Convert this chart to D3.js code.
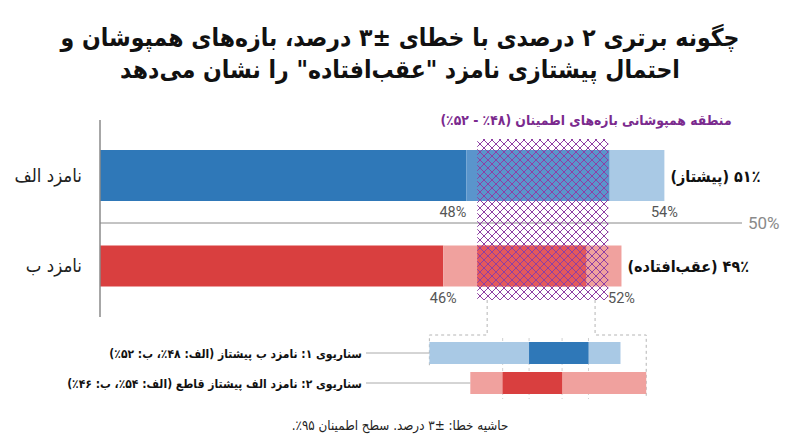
<!DOCTYPE html>
<html>
<head>
<meta charset="utf-8">
<script src="https://cdn.jsdelivr.net/npm/d3@7"></script>
<style>
  body { margin: 0; background: #fff; }
  svg { display: block; }
  .fa { font-family: "DejaVu Sans Condensed", "DejaVu Sans", sans-serif; font-stretch: condensed; direction: rtl; }
  .num { font-family: Roboto, "Liberation Sans", sans-serif; fill: #555; }
</style>
</head>
<body>
<svg id="chart"></svg>
<script>
const chartSize = { width: 800, height: 447 };

const titleLines = [
  "چگونه برتری ۲ درصدی با خطای ±۳ درصد، بازه\u200cهای همپوشان و",
  "احتمال پیشتازی نامزد \"عقب\u200cافتاده\" را نشان می\u200cدهد"
];
const candidates = ["نامزد الف", "نامزد ب"];
const pointLabels = ["۵۱٪ (پیشتاز)", "۴۹٪ (عقب\u200cافتاده)"];
const ciLow = [48, 47.3];
const ciHigh = [54, 52.7];
const innerLow = [48, 48.33];
const innerHigh = [52.33, 51.63];
const lowTicks = ["48%", "46%"];
const highTicks = ["54%", "52%"];
const overlapRange = [48.33, 52.3];
const overlapLabel = "منطقه همپوشانی بازه\u200cهای اطمینان (۴۸٪ - ۵۲٪)";
const refLabel = "50%";
const zoomEdges = [48.63, 51.9];
const scenarioNames = [
  "سناریوی ۱: نامزد ب پیشتاز (الف: ۴۸٪، ب: ۵۲٪)",
  "سناریوی ۲: نامزد الف پیشتاز قاطع (الف: ۵۴٪، ب: ۴۶٪)"
];
const scenarioLight = [[46.88, 52.67], [48.12, 53.45]];
const scenarioDark = [[49.9, 51.7], [49.1, 50.9]];
const footnote = "حاشیه خطا: ±۳ درصد. سطح اطمینان ۹۵٪.";
const domainX = [36.9, 57.2];

const palette = [
  { dark: "#2f78b8", inner: "#5a95cc", light: "#a9c9e5" },
  { dark: "#d93f3f", inner: "#e4585c", light: "#f0a19e" }
];
const rowHeight = [51, 41];
const lowAnchor = ["end", "middle"];
const purple = "#7b2a8e";

const x = d3.scaleLinear().domain(domainX).range([100, 770]);
const y = d3.scalePoint().domain(candidates).range([175.5, 266]);
const ys = d3.scalePoint().domain(scenarioNames).range([353, 383]);

const svg = d3
  .select("#chart")
  .attr("width", chartSize.width)
  .attr("height", chartSize.height);

const uniq = arr => Array.from(new Set(arr));

const drawTitle = () => {
  svg
    .selectAll(".title")
    .data(titleLines)
    .enter()
    .append("text")
    .attr("class", "title fa")
    .attr("x", 400)
    .attr("y", (d, i) => 46 + i * 32)
    .attr("text-anchor", "middle")
    .attr("font-size", 24.5)
    .attr("font-weight", "bold")
    .attr("fill", "#111")
    .text(d => d);
};

const drawBars = () => {
  const rows = candidates.map((c, i) => ({
    name: c,
    i,
    top: y(c) - rowHeight[i] / 2,
    h: rowHeight[i]
  }));

  const g = svg.append("g").attr("class", "bars");

  g.selectAll(".base")
    .data(rows)
    .enter()
    .append("rect")
    .attr("x", x(domainX[0]))
    .attr("y", r => r.top)
    .attr("width", r => x(ciLow[r.i]) - x(domainX[0]))
    .attr("height", r => r.h)
    .attr("fill", r => palette[r.i].dark);

  g.selectAll(".ci")
    .data(rows)
    .enter()
    .append("rect")
    .attr("x", r => x(ciLow[r.i]))
    .attr("y", r => r.top)
    .attr("width", r => x(ciHigh[r.i]) - x(ciLow[r.i]))
    .attr("height", r => r.h)
    .attr("fill", r => palette[r.i].light);

  g.selectAll(".inner")
    .data(rows)
    .enter()
    .append("rect")
    .attr("x", r => x(innerLow[r.i]))
    .attr("y", r => r.top)
    .attr("width", r => x(innerHigh[r.i]) - x(innerLow[r.i]))
    .attr("height", r => r.h)
    .attr("fill", r => palette[r.i].inner);

  // left axis
  svg.append("line")
    .attr("x1", 100).attr("x2", 100)
    .attr("y1", 120).attr("y2", 317)
    .attr("stroke", "#8a8a8a")
    .attr("stroke-width", 1.5);

  // 50% divider
  svg.append("line")
    .attr("x1", 100).attr("x2", 742)
    .attr("y1", 223).attr("y2", 223)
    .attr("stroke", "#888")
    .attr("stroke-width", 1);

  svg.append("text")
    .attr("class", "num")
    .attr("x", 748)
    .attr("y", 229)
    .attr("font-size", 17)
    .style("fill", "#8a8a8a")
    .text(refLabel);

  svg.selectAll(".cand")
    .data(rows)
    .enter()
    .append("text")
    .attr("class", "cand fa")
    .attr("x", 82)
    .attr("y", r => y(r.name) + 6)
    .attr("text-anchor", "start")
    .attr("font-size", 18.5)
    .attr("fill", "#222")
    .text(r => r.name);

  svg.selectAll(".point")
    .data(rows)
    .enter()
    .append("text")
    .attr("class", "point fa")
    .attr("x", r => x(ciHigh[r.i]) + 6)
    .attr("y", r => y(r.name) + 6)
    .attr("text-anchor", "end")
    .attr("font-size", 16)
    .attr("font-weight", "bold")
    .attr("fill", "#111")
    .text(r => pointLabels[r.i]);

  svg.selectAll(".lowtick")
    .data(rows)
    .enter()
    .append("text")
    .attr("class", "num")
    .attr("x", r => x(ciLow[r.i]))
    .attr("y", r => r.top + r.h + 16)
    .attr("text-anchor", r => lowAnchor[r.i])
    .attr("font-size", 14.5)
    .text(r => lowTicks[r.i]);

  svg.selectAll(".hightick")
    .data(rows)
    .enter()
    .append("text")
    .attr("class", "num")
    .attr("x", r => x(ciHigh[r.i]))
    .attr("y", r => r.top + r.h + 16)
    .attr("text-anchor", "middle")
    .attr("font-size", 14.5)
    .text(r => highTicks[r.i]);
};

const drawOverlap = () => {
  const defs = svg.append("defs");
  defs.append("pattern")
    .attr("id", "hatch")
    .attr("patternUnits", "userSpaceOnUse")
    .attr("width", 8)
    .attr("height", 8)
    .append("path")
    .attr("d", "M0,0L8,8M8,0L0,8")
    .attr("stroke", "#8e3fa3")
    .attr("stroke-width", 1);

  svg.append("rect")
    .attr("x", x(overlapRange[0]))
    .attr("y", 139)
    .attr("width", x(overlapRange[1]) - x(overlapRange[0]))
    .attr("height", 161)
    .attr("fill", "url(#hatch)");

  svg.append("text")
    .attr("class", "fa")
    .attr("x", 586)
    .attr("y", 125)
    .attr("text-anchor", "middle")
    .attr("font-size", 13.8)
    .attr("font-weight", "bold")
    .attr("fill", purple)
    .text(overlapLabel);
};

const drawScenarios = () => {
  const dash = "3,3";
  const top = 335;
  const left = x(scenarioLight[0][0]);
  const right = x(scenarioLight[1][1]);
  const guides = [
    [[x(zoomEdges[0]), 300], [x(zoomEdges[0]), top], [left, top], [left, 366]],
    [[x(zoomEdges[1]), 300], [x(zoomEdges[1]), top], [right, top], [right, 398]]
  ];
  svg.selectAll(".guide")
    .data(guides)
    .enter()
    .append("path")
    .attr("d", d3.line())
    .attr("fill", "none")
    .attr("stroke", "#b5b5b5")
    .attr("stroke-dasharray", dash);

  const grid = uniq([
    scenarioDark[0][0], scenarioDark[0][1],
    scenarioDark[1][0], scenarioDark[1][1]
  ]);
  svg.selectAll(".grid")
    .data(grid)
    .enter()
    .append("line")
    .attr("x1", d => x(d)).attr("x2", d => x(d))
    .attr("y1", 338).attr("y2", 399)
    .attr("stroke", "#d0d0d0")
    .attr("stroke-dasharray", dash);

  const rows = scenarioNames.map((n, i) => ({ name: n, i }));
  const h = 22;

  svg.selectAll(".slight")
    .data(rows)
    .enter()
    .append("rect")
    .attr("x", r => x(scenarioLight[r.i][0]))
    .attr("y", r => ys(r.name) - h / 2)
    .attr("width", r => x(scenarioLight[r.i][1]) - x(scenarioLight[r.i][0]))
    .attr("height", h)
    .attr("fill", r => palette[r.i].light);

  svg.selectAll(".sdark")
    .data(rows)
    .enter()
    .append("rect")
    .attr("x", r => x(scenarioDark[r.i][0]))
    .attr("y", r => ys(r.name) - h / 2)
    .attr("width", r => x(scenarioDark[r.i][1]) - x(scenarioDark[r.i][0]))
    .attr("height", h)
    .attr("fill", r => palette[r.i].dark);

  svg.selectAll(".sline")
    .data(rows)
    .enter()
    .append("line")
    .attr("x1", 366)
    .attr("x2", r => x(scenarioLight[r.i][0]))
    .attr("y1", r => ys(r.name))
    .attr("y2", r => ys(r.name))
    .attr("stroke", "#aaa");

  svg.selectAll(".sname")
    .data(rows)
    .enter()
    .append("text")
    .attr("class", "fa")
    .attr("x", 362)
    .attr("y", r => ys(r.name) + 5)
    .attr("text-anchor", "start")
    .attr("font-size", 12)
    .attr("font-weight", "bold")
    .attr("fill", "#111")
    .text(r => r.name);
};

const drawFootnote = () => {
  svg.append("text")
    .attr("class", "fa")
    .attr("x", 400)
    .attr("y", 430)
    .attr("text-anchor", "middle")
    .attr("font-size", 13.3)
    .attr("fill", "#222")
    .text(footnote);
};

const main = () => {
  drawTitle();
  drawBars();
  drawOverlap();
  drawScenarios();
  drawFootnote();
};

window.onload = main;
</script>
</body>
</html>
